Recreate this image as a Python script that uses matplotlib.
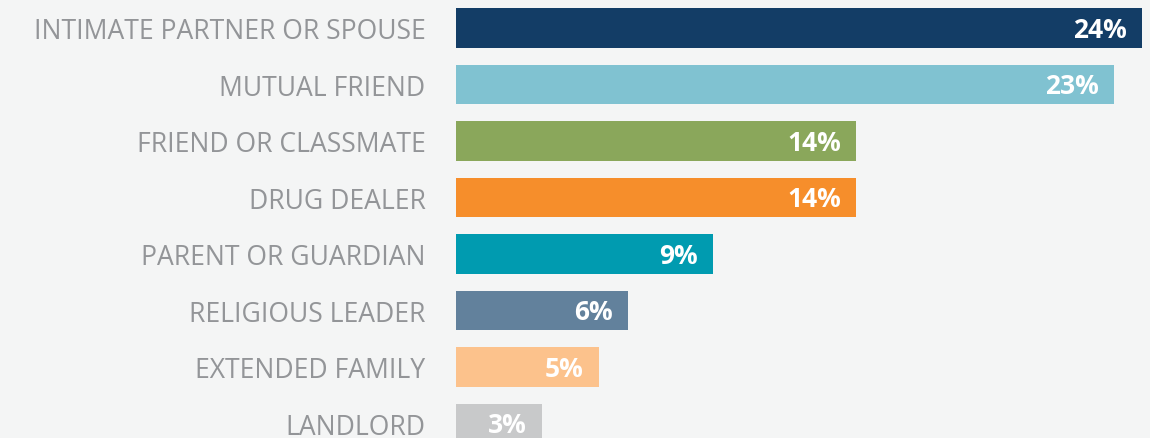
import matplotlib.pyplot as plt

categories = ['INTIMATE PARTNER OR SPOUSE', 'MUTUAL FRIEND', 'FRIEND OR CLASSMATE',
              'DRUG DEALER', 'PARENT OR GUARDIAN', 'RELIGIOUS LEADER',
              'EXTENDED FAMILY', 'LANDLORD']
values = [24, 23, 14, 14, 9, 6, 5, 3]
colors = ['#133d66', '#80c2d1', '#8aa75b', '#f68e2b', '#009bb0', '#62819c',
          '#fcc28c', '#c8c9ca']

bg = '#f4f5f5'
W, H = 1150, 439
px_per_pct = 28.6
pitch = 56.5

fig = plt.figure(figsize=(W / 100, H / 100), dpi=100)
fig.patch.set_facecolor(bg)
x0 = 456
ax = fig.add_axes([x0 / W, 0, (W - x0) / W, 1])
ax.set_facecolor(bg)

ypos = list(range(len(categories)))
ax.barh(ypos, values, height=39.5 / pitch, color=colors, left=0)
ax.set_xlim(0, (W - x0) / px_per_pct)
ax.set_ylim((H - 29) / pitch, -29 / pitch)

for y, v in zip(ypos, values):
    ax.annotate(f'{v}%', xy=(v, y), xytext=(-11, -1), textcoords='offset points',
                ha='right', va='center', color='white', fontsize=19,
                fontweight='bold', family='Open Sans')

ax.set_yticks(ypos)
ax.set_yticklabels(categories, family='Open Sans', fontsize=19.1, color='#939598')
ax.tick_params(axis='y', length=0, pad=22)
ax.set_xticks([])
for s in ax.spines.values():
    s.set_visible(False)

plt.savefig('out.png', dpi=100, facecolor=bg)
